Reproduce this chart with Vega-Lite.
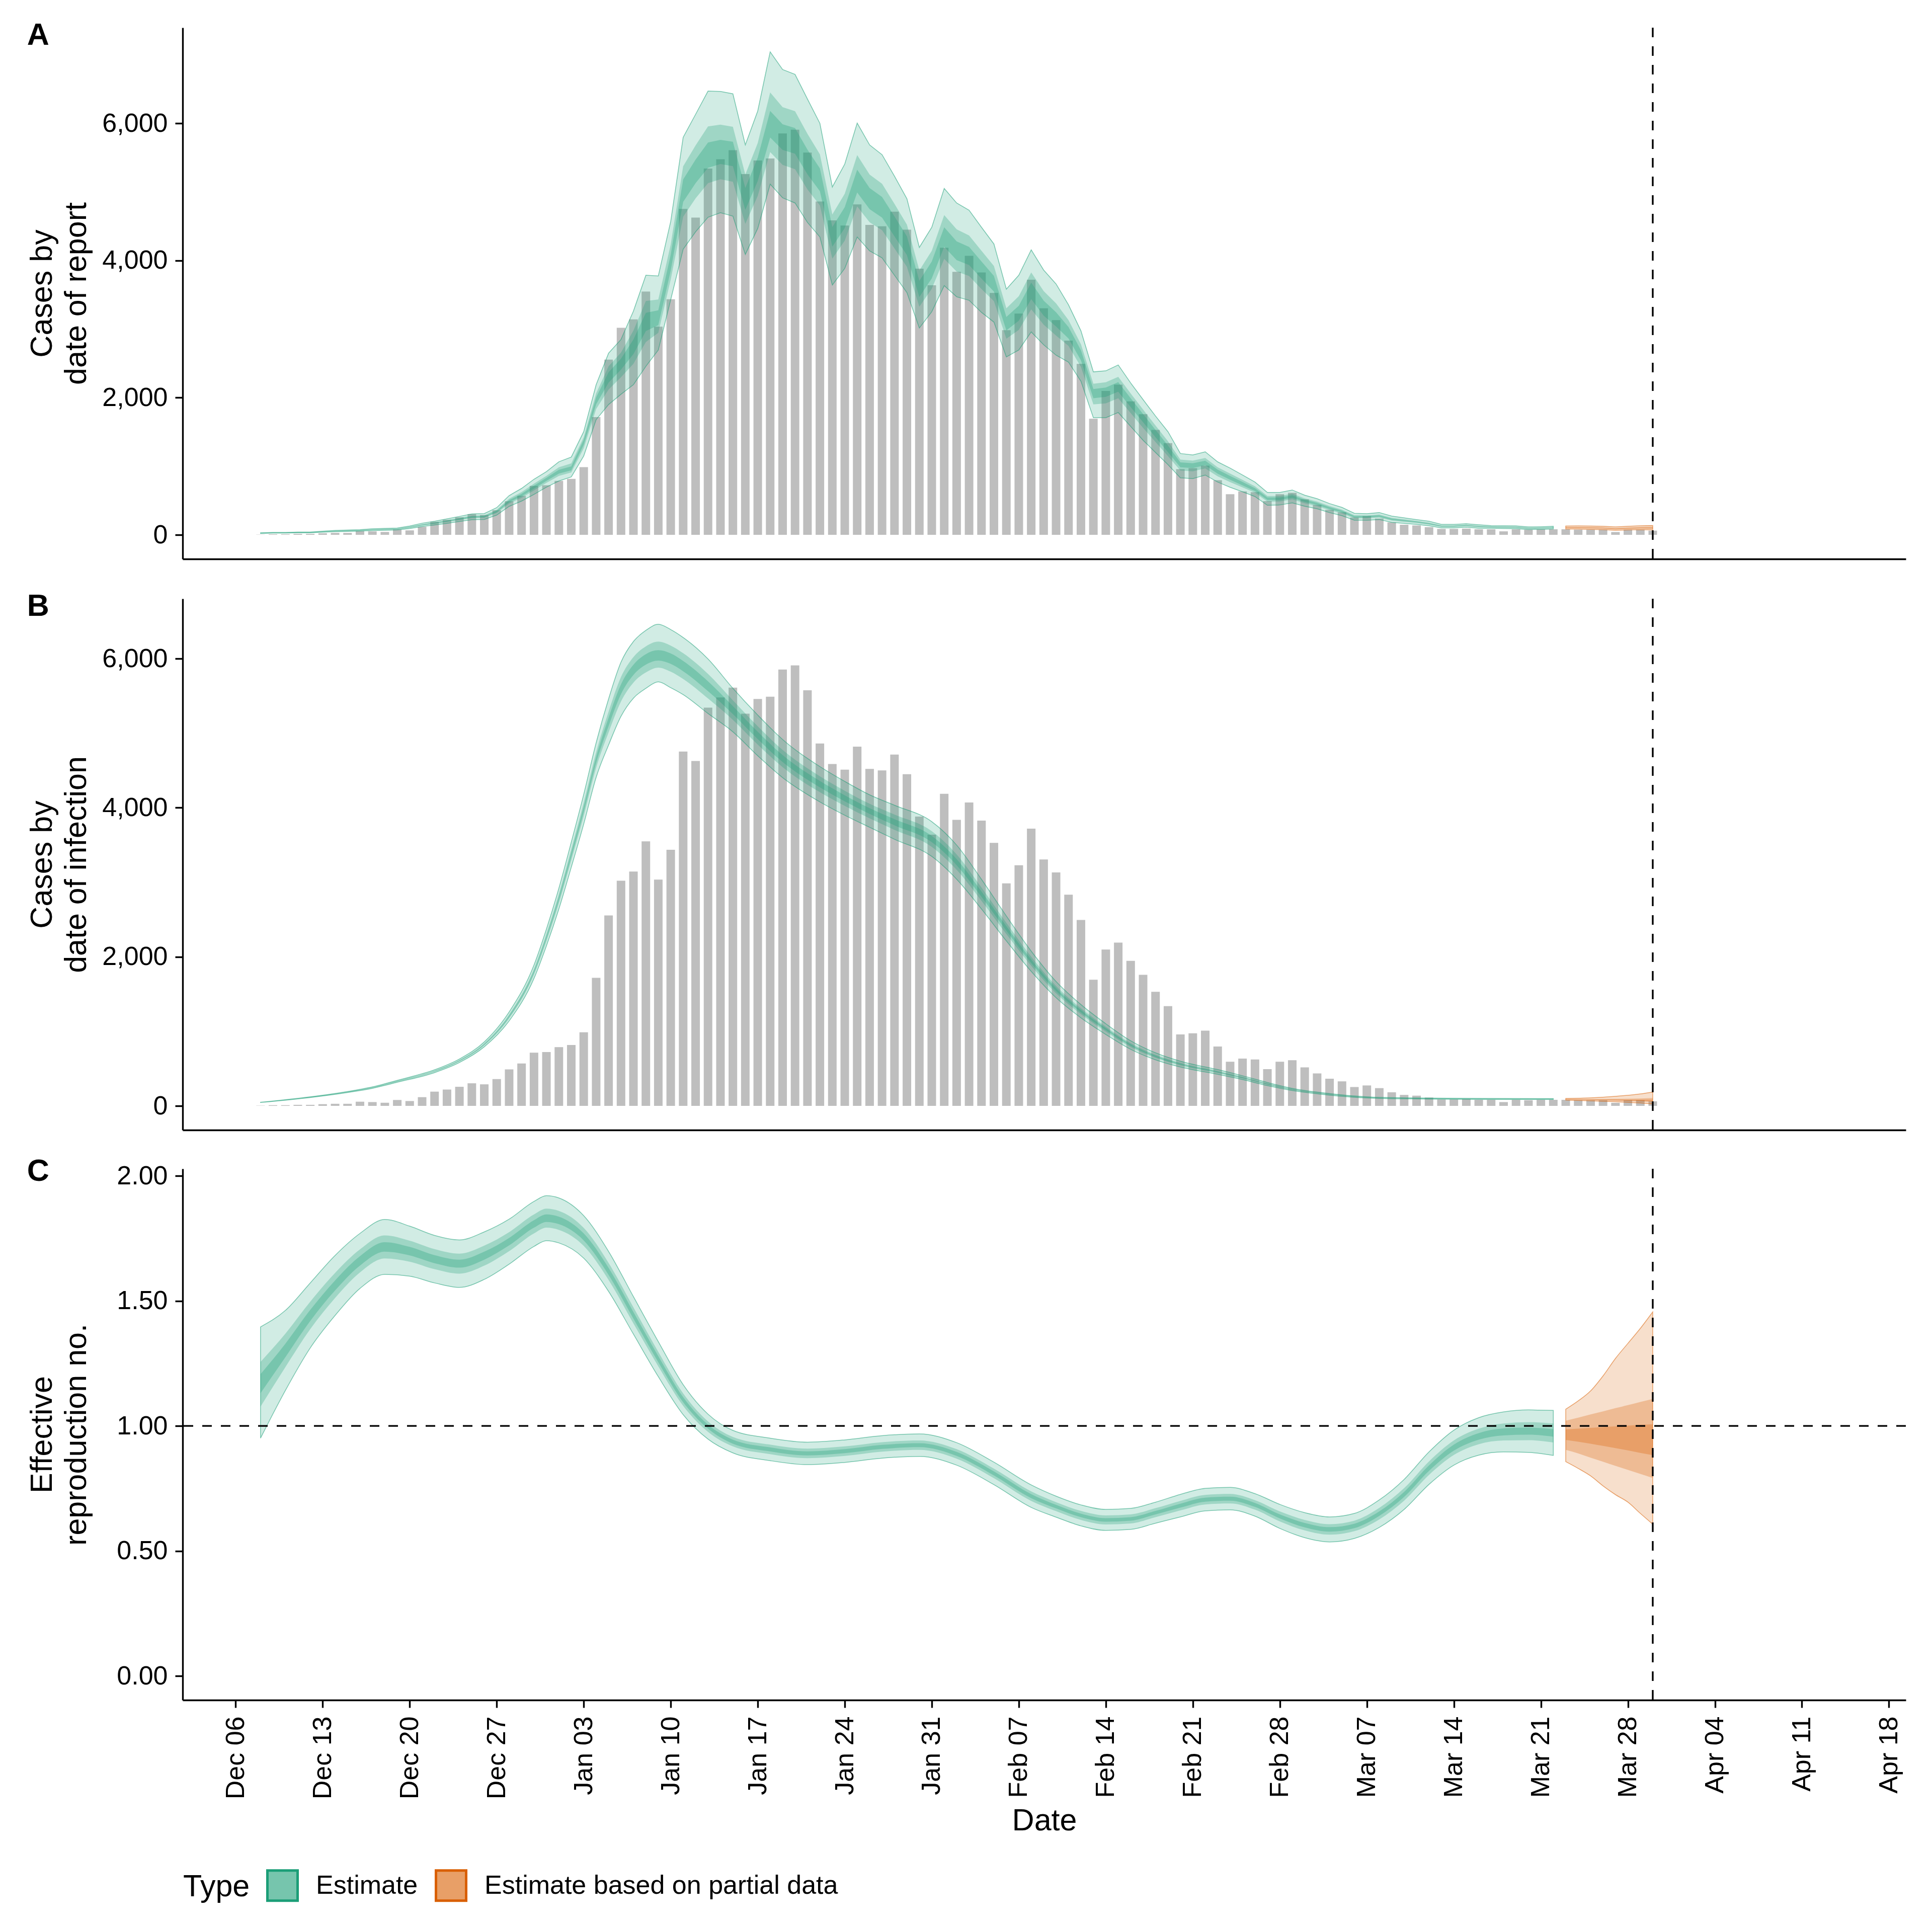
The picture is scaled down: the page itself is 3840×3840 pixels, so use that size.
{
  "$schema": "https://vega.github.io/schema/vega-lite/v6.json",
  "background": "white",
  "padding": {"left": 53, "top": 40, "right": 54, "bottom": 30},
  "config": {
    "font": "Liberation Sans",
    "view": {"stroke": null},
    "axis": {
      "domainColor": "black", "domainWidth": 3.4, "tickColor": "black", "tickWidth": 3.4,
      "tickSize": 15, "labelPadding": 15, "labelFontSize": 52, "labelColor": "black",
      "titleFontSize": 61, "titleColor": "black", "titleFontWeight": "normal", "grid": false,
      "labelFont": "Liberation Sans", "titleFont": "Liberation Sans", "labelOverlap": false, "labelFlush": false
    }
  },
  "spacing": 50,
  "resolve": {"scale": {"x": "shared", "y": "independent", "fill": "shared", "stroke": "shared"}},
  "datasets": {
    "cases": [
      {"date":"2020-12-08","cases":3},{"date":"2020-12-09","cases":9},{"date":"2020-12-10","cases":9},{"date":"2020-12-11","cases":14},{"date":"2020-12-12","cases":14},{"date":"2020-12-13","cases":23},{"date":"2020-12-14","cases":28},{"date":"2020-12-15","cases":28},{"date":"2020-12-16","cases":56},{"date":"2020-12-17","cases":51},{"date":"2020-12-18","cases":42},{"date":"2020-12-19","cases":79},{"date":"2020-12-20","cases":65},{"date":"2020-12-21","cases":117},{"date":"2020-12-22","cases":191},{"date":"2020-12-23","cases":219},{"date":"2020-12-24","cases":256},{"date":"2020-12-25","cases":303},{"date":"2020-12-26","cases":289},{"date":"2020-12-27","cases":359},{"date":"2020-12-28","cases":490},{"date":"2020-12-29","cases":569},{"date":"2020-12-30","cases":713},{"date":"2020-12-31","cases":723},
      {"date":"2021-01-01","cases":788},{"date":"2021-01-02","cases":816},{"date":"2021-01-03","cases":988},{"date":"2021-01-04","cases":1718},{"date":"2021-01-05","cases":2555},{"date":"2021-01-06","cases":3020},{"date":"2021-01-07","cases":3143},{"date":"2021-01-08","cases":3548},{"date":"2021-01-09","cases":3036},{"date":"2021-01-10","cases":3436},{"date":"2021-01-11","cases":4754},{"date":"2021-01-12","cases":4627},{"date":"2021-01-13","cases":5342},{"date":"2021-01-14","cases":5479},{"date":"2021-01-15","cases":5611},{"date":"2021-01-16","cases":5261},{"date":"2021-01-17","cases":5459},{"date":"2021-01-18","cases":5489},{"date":"2021-01-19","cases":5854},{"date":"2021-01-20","cases":5910},{"date":"2021-01-21","cases":5575},{"date":"2021-01-22","cases":4861},{"date":"2021-01-23","cases":4587},{"date":"2021-01-24","cases":4511},{"date":"2021-01-25","cases":4820},{"date":"2021-01-26","cases":4521},{"date":"2021-01-27","cases":4501},{"date":"2021-01-28","cases":4714},{"date":"2021-01-29","cases":4450},{"date":"2021-01-30","cases":3882},{"date":"2021-01-31","cases":3639},
      {"date":"2021-02-01","cases":4186},{"date":"2021-02-02","cases":3837},{"date":"2021-02-03","cases":4070},{"date":"2021-02-04","cases":3827},{"date":"2021-02-05","cases":3528},{"date":"2021-02-06","cases":2985},{"date":"2021-02-07","cases":3228},{"date":"2021-02-08","cases":3720},{"date":"2021-02-09","cases":3305},{"date":"2021-02-10","cases":3132},{"date":"2021-02-11","cases":2833},{"date":"2021-02-12","cases":2494},{"date":"2021-02-13","cases":1693},{"date":"2021-02-14","cases":2098},{"date":"2021-02-15","cases":2190},{"date":"2021-02-16","cases":1946},{"date":"2021-02-17","cases":1759},{"date":"2021-02-18","cases":1531},{"date":"2021-02-19","cases":1338},{"date":"2021-02-20","cases":958},{"date":"2021-02-21","cases":973},{"date":"2021-02-22","cases":1009},{"date":"2021-02-23","cases":796},{"date":"2021-02-24","cases":593},{"date":"2021-02-25","cases":634},{"date":"2021-02-26","cases":623},{"date":"2021-02-27","cases":492},{"date":"2021-02-28","cases":593},
      {"date":"2021-03-01","cases":613},{"date":"2021-03-02","cases":517},{"date":"2021-03-03","cases":436},{"date":"2021-03-04","cases":365},{"date":"2021-03-05","cases":329},{"date":"2021-03-06","cases":253},{"date":"2021-03-07","cases":274},{"date":"2021-03-08","cases":238},{"date":"2021-03-09","cases":182},{"date":"2021-03-10","cases":147},{"date":"2021-03-11","cases":137},{"date":"2021-03-12","cases":112},{"date":"2021-03-13","cases":86},{"date":"2021-03-14","cases":86},{"date":"2021-03-15","cases":91},{"date":"2021-03-16","cases":81},{"date":"2021-03-17","cases":81},{"date":"2021-03-18","cases":51},{"date":"2021-03-19","cases":81},{"date":"2021-03-20","cases":76},{"date":"2021-03-21","cases":81},{"date":"2021-03-22","cases":81},{"date":"2021-03-23","cases":81},{"date":"2021-03-24","cases":76},{"date":"2021-03-25","cases":76},{"date":"2021-03-26","cases":76},{"date":"2021-03-27","cases":41},{"date":"2021-03-28","cases":76},{"date":"2021-03-29","cases":76},{"date":"2021-03-30","cases":61}
    ],
    "est": [
      {"panel":"A","date":"2020-12-08","type":"Estimate","lo90":20,"lo50":23,"lo20":24,"hi20":26,"hi50":27,"hi90":30},
      {"panel":"A","date":"2020-12-09","type":"Estimate","lo90":25,"lo50":28,"lo20":29,"hi20":32,"hi50":33,"hi90":36},
      {"panel":"A","date":"2020-12-10","type":"Estimate","lo90":25,"lo50":28,"lo20":29,"hi20":32,"hi50":33,"hi90":36},
      {"panel":"A","date":"2020-12-11","type":"Estimate","lo90":29,"lo50":32,"lo20":34,"hi20":36,"hi50":38,"hi90":41},
      {"panel":"A","date":"2020-12-12","type":"Estimate","lo90":29,"lo50":32,"lo20":34,"hi20":36,"hi50":38,"hi90":41},
      {"panel":"A","date":"2020-12-13","type":"Estimate","lo90":38,"lo50":42,"lo20":44,"hi20":47,"hi50":49,"hi90":53},
      {"panel":"A","date":"2020-12-14","type":"Estimate","lo90":46,"lo50":51,"lo20":53,"hi20":57,"hi50":59,"hi90":64},
      {"panel":"A","date":"2020-12-15","type":"Estimate","lo90":50,"lo50":56,"lo20":58,"hi20":62,"hi50":65,"hi90":70},
      {"panel":"A","date":"2020-12-16","type":"Estimate","lo90":55,"lo50":61,"lo20":63,"hi20":67,"hi50":70,"hi90":76},
      {"panel":"A","date":"2020-12-17","type":"Estimate","lo90":63,"lo50":70,"lo20":73,"hi20":78,"hi50":81,"hi90":88},
      {"panel":"A","date":"2020-12-18","type":"Estimate","lo90":67,"lo50":74,"lo20":77,"hi20":83,"hi50":86,"hi90":94},
      {"panel":"A","date":"2020-12-19","type":"Estimate","lo90":71,"lo50":79,"lo20":82,"hi20":88,"hi50":92,"hi90":100},
      {"panel":"A","date":"2020-12-20","type":"Estimate","lo90":92,"lo50":102,"lo20":106,"hi20":114,"hi50":119,"hi90":129},
      {"panel":"A","date":"2020-12-21","type":"Estimate","lo90":122,"lo50":135,"lo20":140,"hi20":150,"hi50":156,"hi90":170},
      {"panel":"A","date":"2020-12-22","type":"Estimate","lo90":143,"lo50":158,"lo20":165,"hi20":176,"hi50":183,"hi90":199},
      {"panel":"A","date":"2020-12-23","type":"Estimate","lo90":168,"lo50":186,"lo20":194,"hi20":207,"hi50":215,"hi90":234},
      {"panel":"A","date":"2020-12-24","type":"Estimate","lo90":194,"lo50":214,"lo20":223,"hi20":238,"hi50":248,"hi90":269},
      {"panel":"A","date":"2020-12-25","type":"Estimate","lo90":220,"lo50":242,"lo20":252,"hi20":269,"hi50":280,"hi90":304},
      {"panel":"A","date":"2020-12-26","type":"Estimate","lo90":224,"lo50":247,"lo20":257,"hi20":274,"hi50":285,"hi90":310},
      {"panel":"A","date":"2020-12-27","type":"Estimate","lo90":288,"lo50":317,"lo20":330,"hi20":351,"hi50":366,"hi90":397},
      {"panel":"A","date":"2020-12-28","type":"Estimate","lo90":415,"lo50":456,"lo20":475,"hi20":506,"hi50":527,"hi90":572},
      {"panel":"A","date":"2020-12-29","type":"Estimate","lo90":492,"lo50":540,"lo20":562,"hi20":599,"hi50":624,"hi90":677},
      {"panel":"A","date":"2020-12-30","type":"Estimate","lo90":590,"lo50":648,"lo20":674,"hi20":718,"hi50":747,"hi90":811},
      {"panel":"A","date":"2020-12-31","type":"Estimate","lo90":695,"lo50":758,"lo20":787,"hi20":832,"hi50":860,"hi90":922},
      {"panel":"A","date":"2021-01-01","type":"Estimate","lo90":785,"lo50":859,"lo20":893,"hi20":949,"hi50":985,"hi90":1065},
      {"panel":"A","date":"2021-01-02","type":"Estimate","lo90":845,"lo50":911,"lo20":941,"hi20":999,"hi50":1042,"hi90":1135},
      {"panel":"A","date":"2021-01-03","type":"Estimate","lo90":1150,"lo50":1263,"lo20":1314,"hi20":1385,"hi50":1423,"hi90":1505},
      {"panel":"A","date":"2021-01-04","type":"Estimate","lo90":1680,"lo50":1834,"lo20":1904,"hi20":2006,"hi50":2064,"hi90":2190},
      {"panel":"A","date":"2021-01-05","type":"Estimate","lo90":1900,"lo50":2120,"lo20":2220,"hi20":2370,"hi50":2458,"hi90":2650},
      {"panel":"A","date":"2021-01-06","type":"Estimate","lo90":2050,"lo50":2298,"lo20":2410,"hi20":2570,"hi50":2658,"hi90":2850},
      {"panel":"A","date":"2021-01-07","type":"Estimate","lo90":2190,"lo50":2496,"lo20":2636,"hi20":2850,"hi50":2980,"hi90":3264},
      {"panel":"A","date":"2021-01-08","type":"Estimate","lo90":2458,"lo50":2812,"lo20":2973,"hi20":3239,"hi50":3410,"hi90":3786},
      {"panel":"A","date":"2021-01-09","type":"Estimate","lo90":2696,"lo50":2946,"lo20":3059,"hi20":3275,"hi50":3432,"hi90":3776},
      {"panel":"A","date":"2021-01-10","type":"Estimate","lo90":3431,"lo50":3724,"lo20":3857,"hi20":4085,"hi50":4237,"hi90":4572},
      {"panel":"A","date":"2021-01-11","type":"Estimate","lo90":4166,"lo50":4640,"lo20":4856,"hi20":5182,"hi50":5375,"hi90":5798},
      {"panel":"A","date":"2021-01-12","type":"Estimate","lo90":4420,"lo50":4908,"lo20":5130,"hi20":5472,"hi50":5679,"hi90":6133},
      {"panel":"A","date":"2021-01-13","type":"Estimate","lo90":4632,"lo50":5129,"lo20":5354,"hi20":5722,"hi50":5957,"hi90":6472},
      {"panel":"A","date":"2021-01-14","type":"Estimate","lo90":4698,"lo50":5186,"lo20":5408,"hi20":5761,"hi50":5982,"hi90":6467},
      {"panel":"A","date":"2021-01-15","type":"Estimate","lo90":4648,"lo50":5150,"lo20":5378,"hi20":5734,"hi50":5952,"hi90":6432},
      {"panel":"A","date":"2021-01-16","type":"Estimate","lo90":4090,"lo50":4536,"lo20":4739,"hi20":5058,"hi50":5255,"hi90":5687},
      {"panel":"A","date":"2021-01-17","type":"Estimate","lo90":4470,"lo50":4944,"lo20":5160,"hi20":5502,"hi50":5715,"hi90":6183},
      {"panel":"A","date":"2021-01-18","type":"Estimate","lo90":5114,"lo50":5583,"lo20":5796,"hi20":6182,"hi50":6452,"hi90":7045},
      {"panel":"A","date":"2021-01-19","type":"Estimate","lo90":4916,"lo50":5396,"lo20":5614,"hi20":5988,"hi50":6238,"hi90":6787},
      {"panel":"A","date":"2021-01-20","type":"Estimate","lo90":4840,"lo50":5333,"lo20":5558,"hi20":5933,"hi50":6178,"hi90":6716},
      {"panel":"A","date":"2021-01-21","type":"Estimate","lo90":4556,"lo50":5038,"lo20":5258,"hi20":5618,"hi50":5848,"hi90":6356},
      {"panel":"A","date":"2021-01-22","type":"Estimate","lo90":4344,"lo50":4804,"lo20":5013,"hi20":5344,"hi50":5549,"hi90":6001},
      {"panel":"A","date":"2021-01-23","type":"Estimate","lo90":3644,"lo50":4029,"lo20":4204,"hi20":4490,"hi50":4672,"hi90":5073},
      {"panel":"A","date":"2021-01-24","type":"Estimate","lo90":3887,"lo50":4291,"lo20":4475,"hi20":4779,"hi50":4976,"hi90":5408},
      {"panel":"A","date":"2021-01-25","type":"Estimate","lo90":4344,"lo50":4790,"lo20":4993,"hi20":5325,"hi50":5538,"hi90":6006},
      {"panel":"A","date":"2021-01-26","type":"Estimate","lo90":4141,"lo50":4559,"lo20":4749,"hi20":5058,"hi50":5255,"hi90":5687},
      {"panel":"A","date":"2021-01-27","type":"Estimate","lo90":4040,"lo50":4444,"lo20":4627,"hi20":4928,"hi50":5121,"hi90":5545},
      {"panel":"A","date":"2021-01-28","type":"Estimate","lo90":3786,"lo50":4177,"lo20":4354,"hi20":4643,"hi50":4827,"hi90":5231},
      {"panel":"A","date":"2021-01-29","type":"Estimate","lo90":3533,"lo50":3909,"lo20":4080,"hi20":4354,"hi50":4525,"hi90":4901},
      {"panel":"A","date":"2021-01-30","type":"Estimate","lo90":3016,"lo50":3328,"lo20":3470,"hi20":3705,"hi50":3857,"hi90":4192},
      {"panel":"A","date":"2021-01-31","type":"Estimate","lo90":3254,"lo50":3588,"lo20":3740,"hi20":3987,"hi50":4143,"hi90":4486},
      {"panel":"A","date":"2021-02-01","type":"Estimate","lo90":3634,"lo50":4025,"lo20":4202,"hi20":4486,"hi50":4663,"hi90":5053},
      {"panel":"A","date":"2021-02-02","type":"Estimate","lo90":3472,"lo50":3840,"lo20":4007,"hi20":4281,"hi50":4456,"hi90":4840},
      {"panel":"A","date":"2021-02-03","type":"Estimate","lo90":3421,"lo50":3775,"lo20":3936,"hi20":4199,"hi50":4366,"hi90":4734},
      {"panel":"A","date":"2021-02-04","type":"Estimate","lo90":3244,"lo50":3584,"lo20":3738,"hi20":3987,"hi50":4143,"hi90":4486},
      {"panel":"A","date":"2021-02-05","type":"Estimate","lo90":3102,"lo50":3408,"lo20":3548,"hi20":3776,"hi50":3921,"hi90":4242},
      {"panel":"A","date":"2021-02-06","type":"Estimate","lo90":2595,"lo50":2860,"lo20":2981,"hi20":3178,"hi50":3305,"hi90":3583},
      {"panel":"A","date":"2021-02-07","type":"Estimate","lo90":2696,"lo50":2989,"lo20":3122,"hi20":3340,"hi50":3480,"hi90":3786},
      {"panel":"A","date":"2021-02-08","type":"Estimate","lo90":2960,"lo50":3289,"lo20":3438,"hi20":3678,"hi50":3827,"hi90":4156},
      {"panel":"A","date":"2021-02-09","type":"Estimate","lo90":2772,"lo50":3065,"lo20":3198,"hi20":3416,"hi50":3556,"hi90":3862},
      {"panel":"A","date":"2021-02-10","type":"Estimate","lo90":2620,"lo50":2907,"lo20":3038,"hi20":3245,"hi50":3375,"hi90":3659},
      {"panel":"A","date":"2021-02-11","type":"Estimate","lo90":2519,"lo50":2756,"lo20":2864,"hi20":3031,"hi50":3132,"hi90":3355},
      {"panel":"A","date":"2021-02-12","type":"Estimate","lo90":2240,"lo50":2449,"lo20":2544,"hi20":2691,"hi50":2780,"hi90":2975},
      {"panel":"A","date":"2021-02-13","type":"Estimate","lo90":1708,"lo50":1903,"lo20":1992,"hi20":2126,"hi50":2204,"hi90":2377},
      {"panel":"A","date":"2021-02-14","type":"Estimate","lo90":1708,"lo50":1917,"lo20":2012,"hi20":2149,"hi50":2225,"hi90":2392},
      {"panel":"A","date":"2021-02-15","type":"Estimate","lo90":1784,"lo50":1993,"lo20":2088,"hi20":2227,"hi50":2305,"hi90":2478},
      {"panel":"A","date":"2021-02-16","type":"Estimate","lo90":1581,"lo50":1776,"lo20":1865,"hi20":1992,"hi50":2062,"hi90":2215},
      {"panel":"A","date":"2021-02-17","type":"Estimate","lo90":1379,"lo50":1560,"lo20":1642,"hi20":1761,"hi50":1827,"hi90":1972},
      {"panel":"A","date":"2021-02-18","type":"Estimate","lo90":1201,"lo50":1354,"lo20":1424,"hi20":1531,"hi50":1594,"hi90":1733},
      {"panel":"A","date":"2021-02-19","type":"Estimate","lo90":1024,"lo50":1149,"lo20":1206,"hi20":1303,"hi50":1366,"hi90":1505},
      {"panel":"A","date":"2021-02-20","type":"Estimate","lo90":831,"lo50":937,"lo20":985,"hi20":1056,"hi50":1097,"hi90":1186},
      {"panel":"A","date":"2021-02-21","type":"Estimate","lo90":821,"lo50":927,"lo20":975,"hi20":1044,"hi50":1082,"hi90":1166},
      {"panel":"A","date":"2021-02-22","type":"Estimate","lo90":872,"lo50":969,"lo20":1014,"hi20":1081,"hi50":1122,"hi90":1211},
      {"panel":"A","date":"2021-02-23","type":"Estimate","lo90":770,"lo50":854,"lo20":892,"hi20":950,"hi50":986,"hi90":1064},
      {"panel":"A","date":"2021-02-24","type":"Estimate","lo90":694,"lo50":769,"lo20":804,"hi20":859,"hi50":894,"hi90":973},
      {"panel":"A","date":"2021-02-25","type":"Estimate","lo90":628,"lo50":692,"lo20":722,"hi20":770,"hi50":802,"hi90":872},
      {"panel":"A","date":"2021-02-26","type":"Estimate","lo90":558,"lo50":614,"lo20":639,"hi20":681,"hi50":709,"hi90":770},
      {"panel":"A","date":"2021-02-27","type":"Estimate","lo90":431,"lo50":484,"lo20":508,"hi20":545,"hi50":568,"hi90":618},
      {"panel":"A","date":"2021-02-28","type":"Estimate","lo90":436,"lo50":486,"lo20":509,"hi20":545,"hi50":568,"hi90":618},
      {"panel":"A","date":"2021-03-01","type":"Estimate","lo90":466,"lo50":517,"lo20":540,"hi20":577,"hi50":601,"hi90":654},
      {"panel":"A","date":"2021-03-02","type":"Estimate","lo90":416,"lo50":461,"lo20":481,"hi20":513,"hi50":533,"hi90":578},
      {"panel":"A","date":"2021-03-03","type":"Estimate","lo90":380,"lo50":419,"lo20":437,"hi20":466,"hi50":485,"hi90":527},
      {"panel":"A","date":"2021-03-04","type":"Estimate","lo90":324,"lo50":360,"lo20":377,"hi20":403,"hi50":420,"hi90":456},
      {"panel":"A","date":"2021-03-05","type":"Estimate","lo90":279,"lo50":313,"lo20":328,"hi20":352,"hi50":367,"hi90":400},
      {"panel":"A","date":"2021-03-06","type":"Estimate","lo90":213,"lo50":241,"lo20":254,"hi20":274,"hi50":286,"hi90":314},
      {"panel":"A","date":"2021-03-07","type":"Estimate","lo90":213,"lo50":241,"lo20":254,"hi20":273,"hi50":284,"hi90":309},
      {"panel":"A","date":"2021-03-08","type":"Estimate","lo90":223,"lo50":251,"lo20":264,"hi20":284,"hi50":297,"hi90":324},
      {"panel":"A","date":"2021-03-09","type":"Estimate","lo90":182,"lo50":207,"lo20":219,"hi20":237,"hi50":248,"hi90":274},
      {"panel":"A","date":"2021-03-10","type":"Estimate","lo90":167,"lo50":190,"lo20":200,"hi20":216,"hi50":226,"hi90":248},
      {"panel":"A","date":"2021-03-11","type":"Estimate","lo90":152,"lo50":172,"lo20":181,"hi20":195,"hi50":204,"hi90":223},
      {"panel":"A","date":"2021-03-12","type":"Estimate","lo90":132,"lo50":149,"lo20":156,"hi20":169,"hi50":178,"hi90":198},
      {"panel":"A","date":"2021-03-13","type":"Estimate","lo90":101,"lo50":115,"lo20":122,"hi20":132,"hi50":138,"hi90":152},
      {"panel":"A","date":"2021-03-14","type":"Estimate","lo90":101,"lo50":115,"lo20":122,"hi20":132,"hi50":138,"hi90":152},
      {"panel":"A","date":"2021-03-15","type":"Estimate","lo90":112,"lo50":126,"lo20":132,"hi20":142,"hi50":148,"hi90":162},
      {"panel":"A","date":"2021-03-16","type":"Estimate","lo90":96,"lo50":110,"lo20":117,"hi20":127,"hi50":133,"hi90":147},
      {"panel":"A","date":"2021-03-17","type":"Estimate","lo90":95,"lo50":106,"lo20":111,"hi20":119,"hi50":124,"hi90":135},
      {"panel":"A","date":"2021-03-18","type":"Estimate","lo90":92,"lo50":103,"lo20":108,"hi20":116,"hi50":121,"hi90":132},
      {"panel":"A","date":"2021-03-19","type":"Estimate","lo90":90,"lo50":101,"lo20":106,"hi20":114,"hi50":119,"hi90":130},
      {"panel":"A","date":"2021-03-20","type":"Estimate","lo90":78,"lo50":87,"lo20":92,"hi20":99,"hi50":104,"hi90":115},
      {"panel":"A","date":"2021-03-21","type":"Estimate","lo90":80,"lo50":90,"lo20":94,"hi20":102,"hi50":107,"hi90":118},
      {"panel":"A","date":"2021-03-22","type":"Estimate","lo90":86,"lo50":96,"lo20":101,"hi20":109,"hi50":113,"hi90":125},
      {"panel":"A","date":"2021-03-23","type":"Estimate based on partial data","lo90":85,"lo50":96,"lo20":101,"hi20":110,"hi50":114,"hi90":128},
      {"panel":"A","date":"2021-03-24","type":"Estimate based on partial data","lo90":84,"lo50":96,"lo20":101,"hi20":110,"hi50":116,"hi90":130},
      {"panel":"A","date":"2021-03-25","type":"Estimate based on partial data","lo90":80,"lo50":92,"lo20":98,"hi20":107,"hi50":114,"hi90":128},
      {"panel":"A","date":"2021-03-26","type":"Estimate based on partial data","lo90":76,"lo50":88,"lo20":94,"hi20":103,"hi50":110,"hi90":125},
      {"panel":"A","date":"2021-03-27","type":"Estimate based on partial data","lo90":66,"lo50":78,"lo20":84,"hi20":93,"hi50":100,"hi90":115},
      {"panel":"A","date":"2021-03-28","type":"Estimate based on partial data","lo90":72,"lo50":85,"lo20":90,"hi20":101,"hi50":108,"hi90":125},
      {"panel":"A","date":"2021-03-29","type":"Estimate based on partial data","lo90":75,"lo50":89,"lo20":95,"hi20":106,"hi50":114,"hi90":132},
      {"panel":"A","date":"2021-03-30","type":"Estimate based on partial data","lo90":72,"lo50":87,"lo20":94,"hi20":107,"hi50":116,"hi90":135},

      {"panel":"B","date":"2020-12-08","type":"Estimate","lo90":45,"lo50":46,"lo20":47,"hi20":47,"hi50":48,"hi90":49},
      {"panel":"B","date":"2020-12-12","type":"Estimate","lo90":112,"lo50":115,"lo20":116,"hi20":118,"hi50":119,"hi90":122},
      {"panel":"B","date":"2020-12-15","type":"Estimate","lo90":179,"lo50":183,"lo20":185,"hi20":187,"hi50":189,"hi90":193},
      {"panel":"B","date":"2020-12-17","type":"Estimate","lo90":235,"lo50":241,"lo20":243,"hi20":247,"hi50":249,"hi90":255},
      {"panel":"B","date":"2020-12-19","type":"Estimate","lo90":317,"lo50":324,"lo20":328,"hi20":332,"hi50":336,"hi90":343},
      {"panel":"B","date":"2020-12-22","type":"Estimate","lo90":446,"lo50":457,"lo20":462,"hi20":468,"hi50":473,"hi90":484},
      {"panel":"B","date":"2020-12-24","type":"Estimate","lo90":581,"lo50":594,"lo20":601,"hi20":609,"hi50":616,"hi90":629},
      {"panel":"B","date":"2020-12-26","type":"Estimate","lo90":792,"lo50":810,"lo20":819,"hi20":831,"hi50":840,"hi90":858},
      {"panel":"B","date":"2020-12-28","type":"Estimate","lo90":1140,"lo50":1173,"lo20":1189,"hi20":1211,"hi50":1227,"hi90":1260},
      {"panel":"B","date":"2020-12-30","type":"Estimate","lo90":1710,"lo50":1760,"lo20":1784,"hi20":1816,"hi50":1841,"hi90":1890},
      {"panel":"B","date":"2020-12-31","type":"Estimate","lo90":2147,"lo50":2209,"lo20":2240,"hi20":2280,"hi50":2311,"hi90":2373},
      {"panel":"B","date":"2021-01-01","type":"Estimate","lo90":2641,"lo50":2717,"lo20":2755,"hi20":2805,"hi50":2843,"hi90":2919},
      {"panel":"B","date":"2021-01-02","type":"Estimate","lo90":3202,"lo50":3294,"lo20":3340,"hi20":3400,"hi50":3446,"hi90":3539},
      {"panel":"B","date":"2021-01-03","type":"Estimate","lo90":3781,"lo50":3890,"lo20":3944,"hi20":4016,"hi50":4070,"hi90":4179},
      {"panel":"B","date":"2021-01-04","type":"Estimate","lo90":4408,"lo50":4536,"lo20":4598,"hi20":4682,"hi50":4744,"hi90":4872},
      {"panel":"B","date":"2021-01-05","type":"Estimate","lo90":4841,"lo50":5011,"lo20":5094,"hi20":5206,"hi50":5289,"hi90":5459},
      {"panel":"B","date":"2021-01-06","type":"Estimate","lo90":5227,"lo50":5426,"lo20":5525,"hi20":5655,"hi50":5754,"hi90":5953},
      {"panel":"B","date":"2021-01-07","type":"Estimate","lo90":5470,"lo50":5679,"lo20":5782,"hi20":5918,"hi50":6021,"hi90":6230},
      {"panel":"B","date":"2021-01-08","type":"Estimate","lo90":5601,"lo50":5815,"lo20":5920,"hi20":6060,"hi50":6165,"hi90":6379},
      {"panel":"B","date":"2021-01-09","type":"Estimate","lo90":5688,"lo50":5880,"lo20":5974,"hi20":6113,"hi50":6228,"hi90":6461},
      {"panel":"B","date":"2021-01-10","type":"Estimate","lo90":5610,"lo50":5825,"lo20":5930,"hi20":6070,"hi50":6175,"hi90":6390},
      {"panel":"B","date":"2021-01-11","type":"Estimate","lo90":5517,"lo50":5727,"lo20":5831,"hi20":5969,"hi50":6073,"hi90":6284},
      {"panel":"B","date":"2021-01-13","type":"Estimate","lo90":5264,"lo50":5465,"lo20":5564,"hi20":5696,"hi50":5795,"hi90":5996},
      {"panel":"B","date":"2021-01-15","type":"Estimate","lo90":5018,"lo50":5179,"lo20":5257,"hi20":5363,"hi50":5441,"hi90":5602},
      {"panel":"B","date":"2021-01-17","type":"Estimate","lo90":4697,"lo50":4847,"lo20":4921,"hi20":5019,"hi50":5093,"hi90":5243},
      {"panel":"B","date":"2021-01-19","type":"Estimate","lo90":4404,"lo50":4545,"lo20":4614,"hi20":4706,"hi50":4775,"hi90":4916},
      {"panel":"B","date":"2021-01-22","type":"Estimate","lo90":4078,"lo50":4208,"lo20":4272,"hi20":4358,"hi50":4422,"hi90":4552},
      {"panel":"B","date":"2021-01-24","type":"Estimate","lo90":3899,"lo50":4024,"lo20":4085,"hi20":4167,"hi50":4228,"hi90":4353},
      {"panel":"B","date":"2021-01-26","type":"Estimate","lo90":3737,"lo50":3857,"lo20":3916,"hi20":3994,"hi50":4053,"hi90":4173},
      {"panel":"B","date":"2021-01-28","type":"Estimate","lo90":3577,"lo50":3702,"lo20":3764,"hi20":3846,"hi50":3908,"hi90":4033},
      {"panel":"B","date":"2021-01-31","type":"Estimate","lo90":3347,"lo50":3475,"lo20":3538,"hi20":3622,"hi50":3685,"hi90":3813},
      {"panel":"B","date":"2021-02-02","type":"Estimate","lo90":3041,"lo50":3167,"lo20":3229,"hi20":3311,"hi50":3373,"hi90":3499},
      {"panel":"B","date":"2021-02-04","type":"Estimate","lo90":2641,"lo50":2751,"lo20":2804,"hi20":2876,"hi50":2929,"hi90":3039},
      {"panel":"B","date":"2021-02-06","type":"Estimate","lo90":2213,"lo50":2305,"lo20":2350,"hi20":2410,"hi50":2455,"hi90":2547},
      {"panel":"B","date":"2021-02-08","type":"Estimate","lo90":1804,"lo50":1879,"lo20":1916,"hi20":1964,"hi50":2001,"hi90":2076},
      {"panel":"B","date":"2021-02-10","type":"Estimate","lo90":1451,"lo50":1511,"lo20":1540,"hi20":1580,"hi50":1609,"hi90":1669},
      {"panel":"B","date":"2021-02-12","type":"Estimate","lo90":1181,"lo50":1230,"lo20":1254,"hi20":1286,"hi50":1310,"hi90":1359},
      {"panel":"B","date":"2021-02-14","type":"Estimate","lo90":958,"lo50":998,"lo20":1017,"hi20":1043,"hi50":1062,"hi90":1102},
      {"panel":"B","date":"2021-02-16","type":"Estimate","lo90":759,"lo50":790,"lo20":806,"hi20":826,"hi50":842,"hi90":873},
      {"panel":"B","date":"2021-02-18","type":"Estimate","lo90":618,"lo50":644,"lo20":657,"hi20":673,"hi50":686,"hi90":712},
      {"panel":"B","date":"2021-02-20","type":"Estimate","lo90":521,"lo50":542,"lo20":553,"hi20":567,"hi50":578,"hi90":599},
      {"panel":"B","date":"2021-02-23","type":"Estimate","lo90":423,"lo50":441,"lo20":449,"hi20":461,"hi50":469,"hi90":487},
      {"panel":"B","date":"2021-02-25","type":"Estimate","lo90":352,"lo50":366,"lo20":373,"hi20":383,"hi50":390,"hi90":404},
      {"panel":"B","date":"2021-02-27","type":"Estimate","lo90":272,"lo50":284,"lo20":289,"hi20":297,"hi50":302,"hi90":314},
      {"panel":"B","date":"2021-03-01","type":"Estimate","lo90":205,"lo50":213,"lo20":217,"hi20":223,"hi50":227,"hi90":235},
      {"panel":"B","date":"2021-03-04","type":"Estimate","lo90":144,"lo50":150,"lo20":153,"hi20":157,"hi50":160,"hi90":166},
      {"panel":"B","date":"2021-03-06","type":"Estimate","lo90":115,"lo50":120,"lo20":122,"hi20":126,"hi50":128,"hi90":133},
      {"panel":"B","date":"2021-03-08","type":"Estimate","lo90":100,"lo50":104,"lo20":106,"hi20":108,"hi50":110,"hi90":114},
      {"panel":"B","date":"2021-03-12","type":"Estimate","lo90":91,"lo50":95,"lo20":97,"hi20":99,"hi50":101,"hi90":105},
      {"panel":"B","date":"2021-03-17","type":"Estimate","lo90":86,"lo50":90,"lo20":92,"hi20":94,"hi50":96,"hi90":100},
      {"panel":"B","date":"2021-03-22","type":"Estimate","lo90":86,"lo50":89,"lo20":91,"hi20":93,"hi50":95,"hi90":98},
      {"panel":"B","date":"2021-03-23","type":"Estimate based on partial data","lo90":78,"lo50":83,"lo20":86,"hi20":90,"hi50":93,"hi90":100},
      {"panel":"B","date":"2021-03-25","type":"Estimate based on partial data","lo90":68,"lo50":77,"lo20":81,"hi20":88,"hi50":93,"hi90":108},
      {"panel":"B","date":"2021-03-27","type":"Estimate based on partial data","lo90":55,"lo50":68,"lo20":75,"hi20":85,"hi50":95,"hi90":128},
      {"panel":"B","date":"2021-03-29","type":"Estimate based on partial data","lo90":38,"lo50":58,"lo20":68,"hi20":83,"hi50":100,"hi90":160},
      {"panel":"B","date":"2021-03-30","type":"Estimate based on partial data","lo90":25,"lo50":52,"lo20":63,"hi20":82,"hi50":107,"hi90":186},

      {"panel":"C","date":"2020-12-08","type":"Estimate","lo90":0.951,"lo50":1.077,"lo20":1.131,"hi20":1.207,"hi50":1.256,"hi90":1.396},
      {"panel":"C","date":"2020-12-10","type":"Estimate","lo90":1.142,"lo50":1.235,"lo20":1.275,"hi20":1.329,"hi50":1.369,"hi90":1.462},
      {"panel":"C","date":"2020-12-12","type":"Estimate","lo90":1.312,"lo50":1.387,"lo20":1.420,"hi20":1.464,"hi50":1.497,"hi90":1.572},
      {"panel":"C","date":"2020-12-14","type":"Estimate","lo90":1.442,"lo50":1.512,"lo20":1.542,"hi20":1.582,"hi50":1.612,"hi90":1.682},
      {"panel":"C","date":"2020-12-16","type":"Estimate","lo90":1.550,"lo50":1.614,"lo20":1.641,"hi20":1.679,"hi50":1.706,"hi90":1.770},
      {"panel":"C","date":"2020-12-18","type":"Estimate","lo90":1.606,"lo50":1.670,"lo20":1.697,"hi20":1.735,"hi50":1.762,"hi90":1.826},
      {"panel":"C","date":"2020-12-20","type":"Estimate","lo90":1.599,"lo50":1.657,"lo20":1.682,"hi20":1.716,"hi50":1.741,"hi90":1.799},
      {"panel":"C","date":"2020-12-22","type":"Estimate","lo90":1.572,"lo50":1.627,"lo20":1.651,"hi20":1.683,"hi50":1.707,"hi90":1.762},
      {"panel":"C","date":"2020-12-24","type":"Estimate","lo90":1.554,"lo50":1.609,"lo20":1.633,"hi20":1.665,"hi50":1.689,"hi90":1.744},
      {"panel":"C","date":"2020-12-26","type":"Estimate","lo90":1.586,"lo50":1.641,"lo20":1.665,"hi20":1.697,"hi50":1.721,"hi90":1.776},
      {"panel":"C","date":"2020-12-28","type":"Estimate","lo90":1.647,"lo50":1.699,"lo20":1.722,"hi20":1.752,"hi50":1.775,"hi90":1.827},
      {"panel":"C","date":"2020-12-30","type":"Estimate","lo90":1.718,"lo50":1.770,"lo20":1.793,"hi20":1.823,"hi50":1.846,"hi90":1.898},
      {"panel":"C","date":"2020-12-31","type":"Estimate","lo90":1.741,"lo50":1.793,"lo20":1.816,"hi20":1.846,"hi50":1.869,"hi90":1.921},
      {"panel":"C","date":"2021-01-01","type":"Estimate","lo90":1.732,"lo50":1.784,"lo20":1.807,"hi20":1.837,"hi50":1.860,"hi90":1.912},
      {"panel":"C","date":"2021-01-03","type":"Estimate","lo90":1.671,"lo50":1.720,"lo20":1.742,"hi20":1.770,"hi50":1.792,"hi90":1.841},
      {"panel":"C","date":"2021-01-05","type":"Estimate","lo90":1.538,"lo50":1.584,"lo20":1.604,"hi20":1.632,"hi50":1.652,"hi90":1.698},
      {"panel":"C","date":"2021-01-07","type":"Estimate","lo90":1.367,"lo50":1.410,"lo20":1.429,"hi20":1.455,"hi50":1.474,"hi90":1.517},
      {"panel":"C","date":"2021-01-09","type":"Estimate","lo90":1.197,"lo50":1.238,"lo20":1.255,"hi20":1.279,"hi50":1.296,"hi90":1.337},
      {"panel":"C","date":"2021-01-11","type":"Estimate","lo90":1.045,"lo50":1.080,"lo20":1.095,"hi20":1.115,"hi50":1.130,"hi90":1.165},
      {"panel":"C","date":"2021-01-13","type":"Estimate","lo90":0.947,"lo50":0.976,"lo20":0.989,"hi20":1.005,"hi50":1.018,"hi90":1.047},
      {"panel":"C","date":"2021-01-15","type":"Estimate","lo90":0.892,"lo50":0.918,"lo20":0.929,"hi20":0.945,"hi50":0.956,"hi90":0.982},
      {"panel":"C","date":"2021-01-18","type":"Estimate","lo90":0.861,"lo50":0.887,"lo20":0.898,"hi20":0.914,"hi50":0.925,"hi90":0.951},
      {"panel":"C","date":"2021-01-21","type":"Estimate","lo90":0.845,"lo50":0.871,"lo20":0.882,"hi20":0.898,"hi50":0.909,"hi90":0.935},
      {"panel":"C","date":"2021-01-24","type":"Estimate","lo90":0.854,"lo50":0.880,"lo20":0.891,"hi20":0.907,"hi50":0.918,"hi90":0.944},
      {"panel":"C","date":"2021-01-27","type":"Estimate","lo90":0.871,"lo50":0.897,"lo20":0.908,"hi20":0.924,"hi50":0.935,"hi90":0.961},
      {"panel":"C","date":"2021-01-30","type":"Estimate","lo90":0.878,"lo50":0.904,"lo20":0.915,"hi20":0.931,"hi50":0.942,"hi90":0.968},
      {"panel":"C","date":"2021-02-02","type":"Estimate","lo90":0.843,"lo50":0.869,"lo20":0.880,"hi20":0.896,"hi50":0.907,"hi90":0.933},
      {"panel":"C","date":"2021-02-05","type":"Estimate","lo90":0.765,"lo50":0.791,"lo20":0.802,"hi20":0.818,"hi50":0.829,"hi90":0.855},
      {"panel":"C","date":"2021-02-08","type":"Estimate","lo90":0.674,"lo50":0.700,"lo20":0.711,"hi20":0.727,"hi50":0.738,"hi90":0.764},
      {"panel":"C","date":"2021-02-10","type":"Estimate","lo90":0.635,"lo50":0.659,"lo20":0.670,"hi20":0.684,"hi50":0.695,"hi90":0.719},
      {"panel":"C","date":"2021-02-12","type":"Estimate","lo90":0.600,"lo50":0.624,"lo20":0.635,"hi20":0.649,"hi50":0.660,"hi90":0.684},
      {"panel":"C","date":"2021-02-14","type":"Estimate","lo90":0.582,"lo50":0.606,"lo20":0.617,"hi20":0.631,"hi50":0.642,"hi90":0.666},
      {"panel":"C","date":"2021-02-16","type":"Estimate","lo90":0.586,"lo50":0.610,"lo20":0.621,"hi20":0.635,"hi50":0.646,"hi90":0.670},
      {"panel":"C","date":"2021-02-18","type":"Estimate","lo90":0.611,"lo50":0.635,"lo20":0.646,"hi20":0.660,"hi50":0.671,"hi90":0.695},
      {"panel":"C","date":"2021-02-20","type":"Estimate","lo90":0.636,"lo50":0.662,"lo20":0.673,"hi20":0.689,"hi50":0.700,"hi90":0.726},
      {"panel":"C","date":"2021-02-22","type":"Estimate","lo90":0.660,"lo50":0.686,"lo20":0.697,"hi20":0.713,"hi50":0.724,"hi90":0.750},
      {"panel":"C","date":"2021-02-24","type":"Estimate","lo90":0.664,"lo50":0.690,"lo20":0.701,"hi20":0.717,"hi50":0.728,"hi90":0.754},
      {"panel":"C","date":"2021-02-26","type":"Estimate","lo90":0.639,"lo50":0.665,"lo20":0.676,"hi20":0.692,"hi50":0.703,"hi90":0.729},
      {"panel":"C","date":"2021-02-28","type":"Estimate","lo90":0.590,"lo50":0.618,"lo20":0.630,"hi20":0.646,"hi50":0.658,"hi90":0.686},
      {"panel":"C","date":"2021-03-02","type":"Estimate","lo90":0.553,"lo50":0.582,"lo20":0.594,"hi20":0.612,"hi50":0.624,"hi90":0.653},
      {"panel":"C","date":"2021-03-04","type":"Estimate","lo90":0.536,"lo50":0.565,"lo20":0.577,"hi20":0.595,"hi50":0.607,"hi90":0.636},
      {"panel":"C","date":"2021-03-06","type":"Estimate","lo90":0.550,"lo50":0.579,"lo20":0.591,"hi20":0.609,"hi50":0.621,"hi90":0.650},
      {"panel":"C","date":"2021-03-08","type":"Estimate","lo90":0.594,"lo50":0.626,"lo20":0.640,"hi20":0.658,"hi50":0.672,"hi90":0.704},
      {"panel":"C","date":"2021-03-10","type":"Estimate","lo90":0.666,"lo50":0.701,"lo20":0.716,"hi20":0.736,"hi50":0.751,"hi90":0.786},
      {"panel":"C","date":"2021-03-12","type":"Estimate","lo90":0.766,"lo50":0.804,"lo20":0.820,"hi20":0.842,"hi50":0.858,"hi90":0.896},
      {"panel":"C","date":"2021-03-14","type":"Estimate","lo90":0.843,"lo50":0.884,"lo20":0.901,"hi20":0.925,"hi50":0.942,"hi90":0.983},
      {"panel":"C","date":"2021-03-16","type":"Estimate","lo90":0.883,"lo50":0.927,"lo20":0.945,"hi20":0.971,"hi50":0.989,"hi90":1.033},
      {"panel":"C","date":"2021-03-18","type":"Estimate","lo90":0.896,"lo50":0.942,"lo20":0.962,"hi20":0.990,"hi50":1.010,"hi90":1.056},
      {"panel":"C","date":"2021-03-20","type":"Estimate","lo90":0.894,"lo50":0.943,"lo20":0.965,"hi20":0.993,"hi50":1.015,"hi90":1.064},
      {"panel":"C","date":"2021-03-22","type":"Estimate","lo90":0.882,"lo50":0.934,"lo20":0.957,"hi20":0.987,"hi50":1.010,"hi90":1.062},
      {"panel":"C","date":"2021-03-23","type":"Estimate based on partial data","lo90":0.857,"lo50":0.904,"lo20":0.944,"hi20":0.986,"hi50":1.021,"hi90":1.067},
      {"panel":"C","date":"2021-03-24","type":"Estimate based on partial data","lo90":0.83,"lo50":0.89,"lo20":0.937,"hi20":0.989,"hi50":1.033,"hi90":1.10},
      {"panel":"C","date":"2021-03-25","type":"Estimate based on partial data","lo90":0.80,"lo50":0.873,"lo20":0.929,"hi20":0.992,"hi50":1.046,"hi90":1.14},
      {"panel":"C","date":"2021-03-26","type":"Estimate based on partial data","lo90":0.76,"lo50":0.857,"lo20":0.920,"hi20":0.995,"hi50":1.058,"hi90":1.20},
      {"panel":"C","date":"2021-03-27","type":"Estimate based on partial data","lo90":0.725,"lo50":0.840,"lo20":0.911,"hi20":0.998,"hi50":1.071,"hi90":1.27},
      {"panel":"C","date":"2021-03-28","type":"Estimate based on partial data","lo90":0.695,"lo50":0.824,"lo20":0.902,"hi20":1.001,"hi50":1.083,"hi90":1.33},
      {"panel":"C","date":"2021-03-29","type":"Estimate based on partial data","lo90":0.65,"lo50":0.808,"lo20":0.892,"hi20":1.004,"hi50":1.096,"hi90":1.39},
      {"panel":"C","date":"2021-03-30","type":"Estimate based on partial data","lo90":0.607,"lo50":0.792,"lo20":0.883,"hi20":1.007,"hi50":1.108,"hi90":1.456}
    ]
  },
  "vconcat": [
    {
      "width": 3425, "height": 1056,
      "title": {"text": "A", "anchor": "start", "frame": "bounds", "offset": -34, "dy": 63, "baseline": "alphabetic", "fontSize": 61, "fontWeight": "bold", "color": "black", "font": "Liberation Sans"},
      "layer": [
        {
          "data": {"name": "cases"},
          "mark": {"type": "bar", "color": "#bebebe", "size": 17},
          "encoding": {
            "x": {"field": "date", "type": "temporal", "scale": {"type": "utc", "domain": [1606844217600, 1618821504000], "nice": false, "padding": 0}, "axis": {"labels": false, "ticks": false, "title": null}},
            "y": {"field": "cases", "type": "quantitative", "scale": {"domain": [-352, 7397], "nice": false, "zero": false}, "axis": {"title": ["Cases by", "date of report"], "values": [0, 2000, 4000, 6000], "format": ",.0f", "titlePadding": 19, "titleLineHeight": 68}}
          }
        },
        {
          "data": {"name": "est"},
          "transform": [{"filter": "datum.panel === 'A'"}],
          "mark": {"type": "area", "fillOpacity": 0.2, "strokeWidth": 1.5, "strokeOpacity": 0.55},
          "encoding": {
            "x": {"field": "date", "type": "temporal", "axis": {"labels": false, "ticks": false, "title": null}},
            "y": {"field": "lo90", "type": "quantitative", "axis": {"title": ["Cases by", "date of report"], "values": [0, 2000, 4000, 6000], "format": ",.0f", "titlePadding": 19, "titleLineHeight": 68}},
            "y2": {"field": "hi90"},
            "fill": {"field": "type", "type": "nominal", "scale": {"domain": ["Estimate", "Estimate based on partial data"], "range": ["#1b9e77", "#d95f02"]},
              "legend": {"title": "Type", "orient": "none", "legendX": 1, "legendY": 3660, "direction": "horizontal", "titleOrient": "left", "padding": 0, "symbolType": "square", "symbolSize": 3600, "symbolStrokeWidth": 5, "labelOffset": 34, "columnPadding": 25, "titlePadding": 32, "labelFontSize": 52, "labelLimit": 2000, "titleFontSize": 61, "titleFontWeight": "normal", "titleColor": "black", "labelColor": "black", "labelFont": "Liberation Sans", "titleFont": "Liberation Sans",
                "encode": {"symbols": {"update": {"fillOpacity": {"value": 0.6}, "strokeOpacity": {"value": 1}, "opacity": {"value": 1}}}}}},
            "stroke": {"field": "type", "type": "nominal", "scale": {"domain": ["Estimate", "Estimate based on partial data"], "range": ["#1b9e77", "#d95f02"]},
              "legend": {"title": "Type", "orient": "none", "legendX": 1, "legendY": 3660, "direction": "horizontal", "titleOrient": "left", "padding": 0, "symbolType": "square", "symbolSize": 3600, "symbolStrokeWidth": 5, "labelOffset": 34, "columnPadding": 25, "titlePadding": 32, "labelFontSize": 52, "labelLimit": 2000, "titleFontSize": 61, "titleFontWeight": "normal", "titleColor": "black", "labelColor": "black", "labelFont": "Liberation Sans", "titleFont": "Liberation Sans",
                "encode": {"symbols": {"update": {"fillOpacity": {"value": 0.6}, "strokeOpacity": {"value": 1}, "opacity": {"value": 1}}}}}}
          }
        },
        {
          "data": {"name": "est"},
          "transform": [{"filter": "datum.panel === 'A'"}],
          "mark": {"type": "area", "fillOpacity": 0.28},
          "encoding": {
            "x": {"field": "date", "type": "temporal", "axis": {"labels": false, "ticks": false, "title": null}},
            "y": {"field": "lo50", "type": "quantitative", "axis": {"title": ["Cases by", "date of report"], "values": [0, 2000, 4000, 6000], "format": ",.0f", "titlePadding": 19, "titleLineHeight": 68}},
            "y2": {"field": "hi50"},
            "fill": {"field": "type", "type": "nominal"}
          }
        },
        {
          "data": {"name": "est"},
          "transform": [{"filter": "datum.panel === 'A'"}],
          "mark": {"type": "area", "fillOpacity": 0.3},
          "encoding": {
            "x": {"field": "date", "type": "temporal", "axis": {"labels": false, "ticks": false, "title": null}},
            "y": {"field": "lo20", "type": "quantitative", "axis": {"title": ["Cases by", "date of report"], "values": [0, 2000, 4000, 6000], "format": ",.0f", "titlePadding": 19, "titleLineHeight": 68}},
            "y2": {"field": "hi20"},
            "fill": {"field": "type", "type": "nominal"}
          }
        },
        {
          "data": {"values": [{"date": "2021-03-30"}]},
          "mark": {"type": "rule", "color": "black", "strokeWidth": 3.4, "strokeDash": [19, 18]},
          "encoding": {"x": {"field": "date", "type": "temporal", "axis": {"labels": false, "ticks": false, "title": null}}}
        }
      ]
    },
    {
      "width": 3425, "height": 1056,
      "title": {"text": ["", "B"], "lineHeight": 12, "anchor": "start", "frame": "bounds", "offset": -34, "dy": 63, "baseline": "alphabetic", "fontSize": 61, "fontWeight": "bold", "color": "black", "font": "Liberation Sans"},
      "layer": [
        {
          "data": {"name": "cases"},
          "mark": {"type": "bar", "color": "#bebebe", "size": 17},
          "encoding": {
            "x": {"field": "date", "type": "temporal", "scale": {"type": "utc", "domain": [1606844217600, 1618821504000], "nice": false, "padding": 0}, "axis": {"labels": false, "ticks": false, "title": null}},
            "y": {"field": "cases", "type": "quantitative", "scale": {"domain": [-324, 6804], "nice": false, "zero": false}, "axis": {"title": ["Cases by", "date of infection"], "values": [0, 2000, 4000, 6000], "format": ",.0f", "titlePadding": 19, "titleLineHeight": 68}}
          }
        },
        {
          "data": {"name": "est"},
          "transform": [{"filter": "datum.panel === 'B'"}],
          "mark": {"type": "area", "fillOpacity": 0.2, "strokeWidth": 1.5, "strokeOpacity": 0.55, "interpolate": "monotone"},
          "encoding": {
            "x": {"field": "date", "type": "temporal", "axis": {"labels": false, "ticks": false, "title": null}},
            "y": {"field": "lo90", "type": "quantitative", "axis": {"title": ["Cases by", "date of infection"], "values": [0, 2000, 4000, 6000], "format": ",.0f", "titlePadding": 19, "titleLineHeight": 68}},
            "y2": {"field": "hi90"},
            "fill": {"field": "type", "type": "nominal"},
            "stroke": {"field": "type", "type": "nominal"}
          }
        },
        {
          "data": {"name": "est"},
          "transform": [{"filter": "datum.panel === 'B'"}],
          "mark": {"type": "area", "fillOpacity": 0.28, "interpolate": "monotone"},
          "encoding": {
            "x": {"field": "date", "type": "temporal", "axis": {"labels": false, "ticks": false, "title": null}},
            "y": {"field": "lo50", "type": "quantitative", "axis": {"title": ["Cases by", "date of infection"], "values": [0, 2000, 4000, 6000], "format": ",.0f", "titlePadding": 19, "titleLineHeight": 68}},
            "y2": {"field": "hi50"},
            "fill": {"field": "type", "type": "nominal"}
          }
        },
        {
          "data": {"name": "est"},
          "transform": [{"filter": "datum.panel === 'B'"}],
          "mark": {"type": "area", "fillOpacity": 0.3, "interpolate": "monotone"},
          "encoding": {
            "x": {"field": "date", "type": "temporal", "axis": {"labels": false, "ticks": false, "title": null}},
            "y": {"field": "lo20", "type": "quantitative", "axis": {"title": ["Cases by", "date of infection"], "values": [0, 2000, 4000, 6000], "format": ",.0f", "titlePadding": 19, "titleLineHeight": 68}},
            "y2": {"field": "hi20"},
            "fill": {"field": "type", "type": "nominal"}
          }
        },
        {
          "data": {"values": [{"date": "2021-03-30"}]},
          "mark": {"type": "rule", "color": "black", "strokeWidth": 3.4, "strokeDash": [19, 18]},
          "encoding": {"x": {"field": "date", "type": "temporal", "axis": {"labels": false, "ticks": false, "title": null}}}
        }
      ]
    },
    {
      "width": 3425, "height": 1056,
      "title": {"text": "C", "anchor": "start", "frame": "bounds", "offset": -34, "dy": 63, "baseline": "alphabetic", "fontSize": 61, "fontWeight": "bold", "color": "black", "font": "Liberation Sans"},
      "layer": [
        {
          "data": {"name": "est"},
          "transform": [{"filter": "datum.panel === 'C'"}],
          "mark": {"type": "area", "fillOpacity": 0.2, "strokeWidth": 1.5, "strokeOpacity": 0.55, "interpolate": "monotone"},
          "encoding": {
            "x": {"field": "date", "type": "temporal", "scale": {"type": "utc", "domain": [1606844217600, 1618821504000], "nice": false, "padding": 0},
              "axis": {"values": [1607212800000, 1607817600000, 1608422400000, 1609027200000, 1609632000000, 1610236800000, 1610841600000, 1611446400000, 1612051200000, 1612656000000, 1613260800000, 1613865600000, 1614470400000, 1615075200000, 1615680000000, 1616284800000, 1616889600000, 1617494400000, 1618099200000, 1618704000000], "format": "%b %d", "labelAngle": 270, "labelAlign": "right", "labelBaseline": "middle", "title": "Date", "titlePadding": 14, "labelPadding": 17}},
            "y": {"field": "lo90", "type": "quantitative", "scale": {"domain": [-0.0966, 2.0286], "nice": false, "zero": false}, "axis": {"title": ["Effective", "reproduction no."], "values": [0, 0.5, 1, 1.5, 2], "format": ".2f", "titlePadding": 48, "titleLineHeight": 68}},
            "y2": {"field": "hi90"},
            "fill": {"field": "type", "type": "nominal"},
            "stroke": {"field": "type", "type": "nominal"}
          }
        },
        {
          "data": {"name": "est"},
          "transform": [{"filter": "datum.panel === 'C'"}],
          "mark": {"type": "area", "fillOpacity": 0.28, "interpolate": "monotone"},
          "encoding": {
            "x": {"field": "date", "type": "temporal",
              "axis": {"values": [1607212800000, 1607817600000, 1608422400000, 1609027200000, 1609632000000, 1610236800000, 1610841600000, 1611446400000, 1612051200000, 1612656000000, 1613260800000, 1613865600000, 1614470400000, 1615075200000, 1615680000000, 1616284800000, 1616889600000, 1617494400000, 1618099200000, 1618704000000], "format": "%b %d", "labelAngle": 270, "labelAlign": "right", "labelBaseline": "middle", "title": "Date", "titlePadding": 14, "labelPadding": 17}},
            "y": {"field": "lo50", "type": "quantitative", "axis": {"title": ["Effective", "reproduction no."], "values": [0, 0.5, 1, 1.5, 2], "format": ".2f", "titlePadding": 48, "titleLineHeight": 68}},
            "y2": {"field": "hi50"},
            "fill": {"field": "type", "type": "nominal"}
          }
        },
        {
          "data": {"name": "est"},
          "transform": [{"filter": "datum.panel === 'C'"}],
          "mark": {"type": "area", "fillOpacity": 0.3, "interpolate": "monotone"},
          "encoding": {
            "x": {"field": "date", "type": "temporal",
              "axis": {"values": [1607212800000, 1607817600000, 1608422400000, 1609027200000, 1609632000000, 1610236800000, 1610841600000, 1611446400000, 1612051200000, 1612656000000, 1613260800000, 1613865600000, 1614470400000, 1615075200000, 1615680000000, 1616284800000, 1616889600000, 1617494400000, 1618099200000, 1618704000000], "format": "%b %d", "labelAngle": 270, "labelAlign": "right", "labelBaseline": "middle", "title": "Date", "titlePadding": 14, "labelPadding": 17}},
            "y": {"field": "lo20", "type": "quantitative", "axis": {"title": ["Effective", "reproduction no."], "values": [0, 0.5, 1, 1.5, 2], "format": ".2f", "titlePadding": 48, "titleLineHeight": 68}},
            "y2": {"field": "hi20"},
            "fill": {"field": "type", "type": "nominal"}
          }
        },
        {
          "data": {"values": [{"date": "2021-03-30"}]},
          "mark": {"type": "rule", "color": "black", "strokeWidth": 3.4, "strokeDash": [19, 18]},
          "encoding": {"x": {"field": "date", "type": "temporal",
            "axis": {"values": [1607212800000, 1607817600000, 1608422400000, 1609027200000, 1609632000000, 1610236800000, 1610841600000, 1611446400000, 1612051200000, 1612656000000, 1613260800000, 1613865600000, 1614470400000, 1615075200000, 1615680000000, 1616284800000, 1616889600000, 1617494400000, 1618099200000, 1618704000000], "format": "%b %d", "labelAngle": 270, "labelAlign": "right", "labelBaseline": "middle", "title": "Date", "titlePadding": 14, "labelPadding": 17}}}
        },
        {
          "data": {"values": [{"rt": 1}]},
          "mark": {"type": "rule", "color": "black", "strokeWidth": 3.4, "strokeDash": [19, 18]},
          "encoding": {"y": {"field": "rt", "type": "quantitative", "axis": {"title": ["Effective", "reproduction no."], "values": [0, 0.5, 1, 1.5, 2], "format": ".2f", "titlePadding": 48, "titleLineHeight": 68}}}
        }
      ]
    }
  ]
}
